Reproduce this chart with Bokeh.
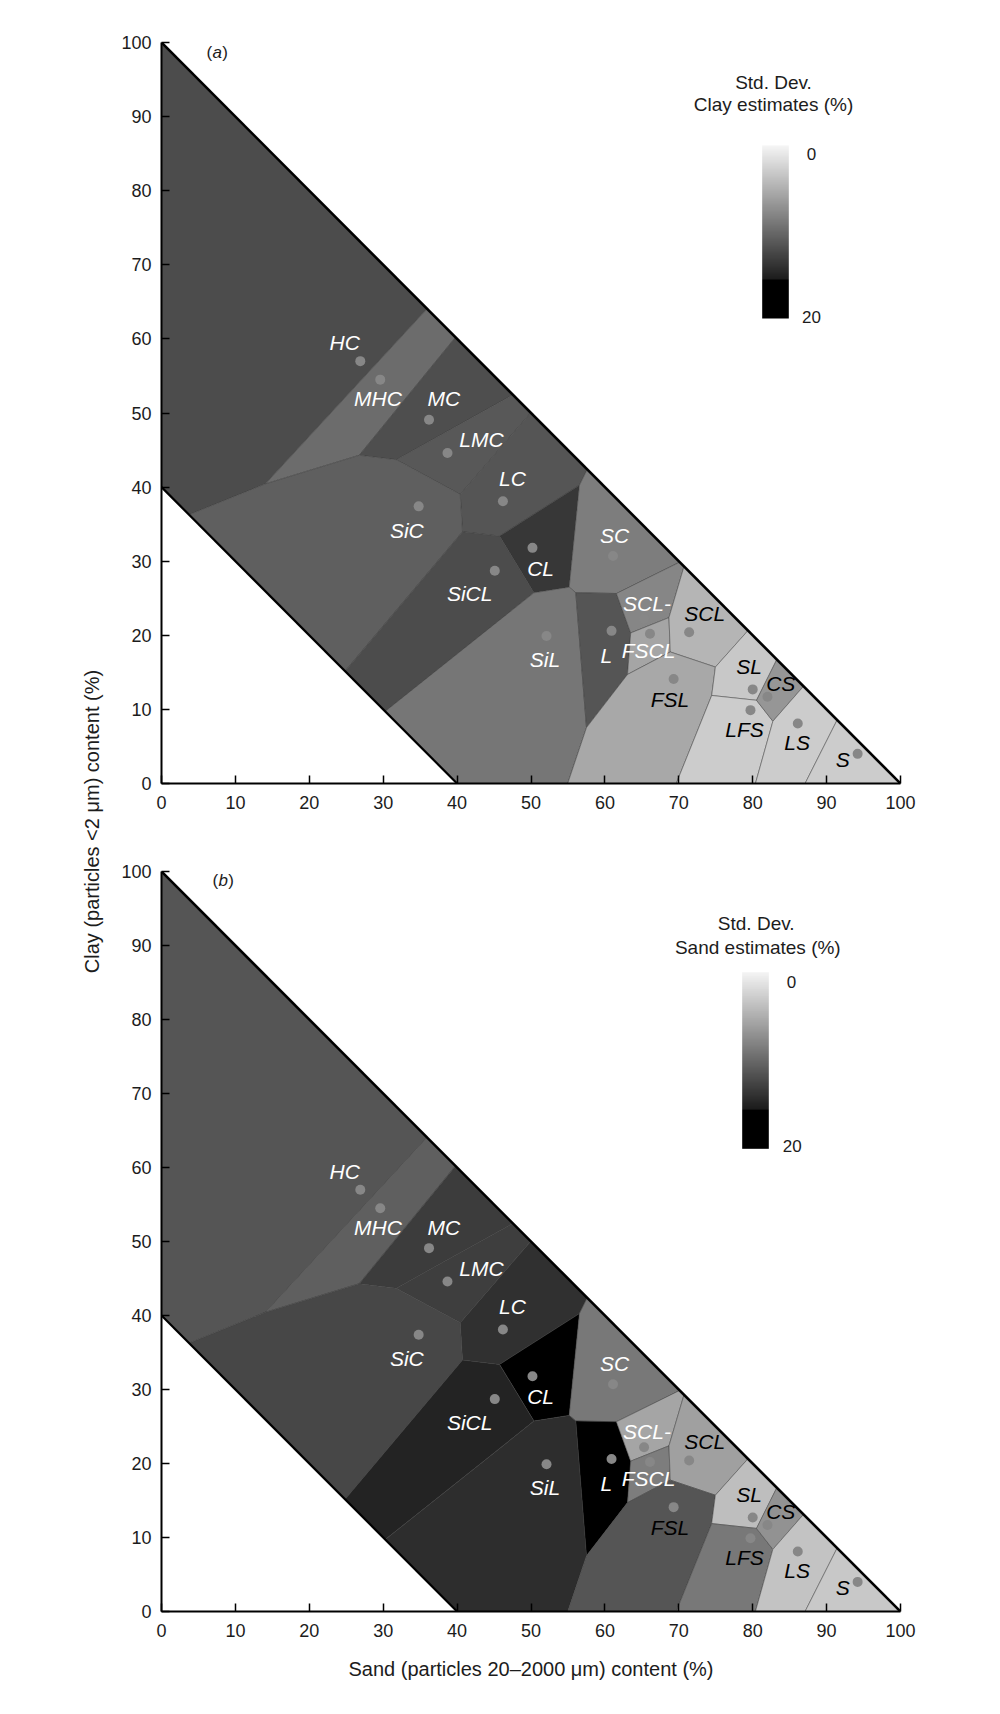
import numpy as np
from bokeh.plotting import figure
from bokeh.layouts import row, column
from bokeh.models import Range1d, FixedTicker
from bokeh.core.properties import value
from bokeh.embed import file_html
from bokeh.resources import INLINE

# ---------------- data ----------------
classes = ["HC", "MHC", "MC", "LMC", "LC", "SiC", "CL", "SiCL", "SC", "SiL",
           "L", "SCL-", "FSCL", "SCL", "FSL", "SL", "LFS", "CS", "LS", "S"]
# class centroids (sand %, clay %)
sand = [26.9, 29.6, 36.2, 38.7, 46.2, 34.8, 50.2, 45.1, 61.1, 52.1,
        60.9, 65.3, 66.1, 71.4, 69.3, 80.0, 79.7, 82.0, 86.1, 94.2]
clay = [57.0, 54.5, 49.1, 44.6, 38.1, 37.4, 31.8, 28.7, 30.7, 19.9,
        20.6, 22.2, 20.2, 20.4, 14.1, 12.7, 9.9, 11.7, 8.1, 4.0]
# standard deviation of estimates per class (%)
sd_clay = [12.1, 9.8, 11.9, 11.2, 11.4, 10.7, 13.6, 12.1, 8.6, 9.1,
           11.4, 7.9, 5.7, 4.6, 5.5, 3.2, 2.9, 6.8, 2.9, 2.9]
sd_sand = [11.4, 10.7, 13.2, 13.1, 14.1, 12.4, 17.0, 15.0, 8.9, 14.3,
           17.5, 5.7, 8.6, 6.1, 11.4, 3.9, 8.9, 7.1, 3.6, 3.2]
# label anchor positions (sand %, clay %)
label_sand = [24.8, 29.3, 38.2, 43.3, 47.5, 33.2, 51.3, 41.7, 61.3, 51.9,
              60.2, 65.7, 65.9, 73.5, 68.8, 79.5, 78.9, 83.8, 86.0, 92.2]
label_clay = [59.5, 51.9, 51.9, 46.4, 41.2, 34.2, 29.0, 25.6, 33.5, 16.8,
              17.3, 24.3, 18.0, 23.0, 11.3, 15.8, 7.3, 13.5, 5.6, 3.2]
dark_text = {"SCL", "FSL", "SL", "CS", "LFS", "LS", "S"}

x_ticks = list(range(0, 101, 10))
y_ticks = list(range(0, 101, 10))
cbar_ticks = [0, 20]

# texture domain: sand + clay <= 100, sand + clay >= 40
domain_sand = [0, 0, 100, 40]
domain_clay = [40, 100, 0, 0]

FONT = "Liberation Sans"
TXT = "#1c1c1c"
FW = 739
LEFT = 161      # page x of the frame's left edge
LABW = 112      # width of the y-title column


def gray_of(v):
    g = 0.0 if v >= 15.6 else 245.0 * (1.0 - v / 17.5)
    return int(round(max(0.0, min(255.0, g))))


def hexgray(g):
    return "#%02x%02x%02x" % (g, g, g)


def clip(poly, a, b, c):
    out = []
    n = len(poly)
    for i in range(n):
        p, q = poly[i], poly[(i + 1) % n]
        fp = a * p[0] + b * p[1] - c
        fq = a * q[0] + b * q[1] - c
        if fp <= 0:
            out.append(p)
        if fp * fq < 0:
            t = fp / (fp - fq)
            out.append((p[0] + t * (q[0] - p[0]), p[1] + t * (q[1] - p[1])))
    return out


def voronoi_cells(px, py):
    dom = list(zip(domain_sand, domain_clay))
    cells = []
    for i in range(len(px)):
        poly = list(dom)
        for j in range(len(px)):
            if i == j:
                continue
            a = 2 * (px[j] - px[i])
            b = 2 * (py[j] - py[i])
            c = px[j] ** 2 + py[j] ** 2 - px[i] ** 2 - py[i] ** 2
            poly = clip(poly, a, b, c)
            if not poly:
                break
        cells.append(poly)
    return cells


cells = voronoi_cells(sand, clay)


def make_panel(sd, letter, title, frame_top, frame_h, border_bottom, cb, with_xlabel):
    def px(X, Y):
        return (X - LEFT) / FW * 100.0, (frame_top + frame_h - Y) / frame_h * 100.0

    p = figure(frame_width=FW, frame_height=frame_h,
               x_range=Range1d(0, 100), y_range=Range1d(0, 100),
               output_backend="svg", toolbar_location=None,
               min_border_left=LEFT - LABW, min_border_right=100,
               min_border_top=42, min_border_bottom=border_bottom)
    p.outline_line_color = None
    p.xgrid.visible = False
    p.ygrid.visible = False
    p.background_fill_color = "white"
    p.border_fill_color = "white"

    xs = [[pt[0] for pt in c] for c in cells]
    ys = [[pt[1] for pt in c] for c in cells]
    fills = [hexgray(gray_of(v)) for v in sd]
    p.patches(xs, ys, fill_color=fills, line_color="#3a3a3a", line_width=0.8, line_alpha=0.6)

    # domain boundaries
    p.line(x=[domain_sand[1], domain_sand[2]], y=[domain_clay[1], domain_clay[2]],
           line_color="black", line_width=2.6)
    p.line(x=[domain_sand[0], domain_sand[3]], y=[domain_clay[0], domain_clay[3]],
           line_color="black", line_width=2.2)

    # centroid dots
    p.scatter(x=sand, y=clay, size=10, fill_color="#878787", line_color=None)

    # class labels
    tcol = ["black" if c in dark_text else "white" for c in classes]
    p.text(x=label_sand, y=label_clay, text=classes, text_color=tcol,
           text_font=value(FONT), text_font_style="italic", text_font_size="21px",
           text_align="center", text_baseline="middle")

    # panel letter
    lx, ly = px(*cb["letter"])
    p.text(x=[lx], y=[ly], text=[letter], text_font=value(FONT), text_font_style="italic",
           text_font_size="17px", text_align="center", text_baseline="middle", text_color=TXT)
    p.text(x=[lx], y=[ly], text=["("], x_offset=-5, text_font=value(FONT),
           text_font_size="17px", text_align="right", text_baseline="middle", text_color=TXT)
    p.text(x=[lx], y=[ly], text=[")"], x_offset=5, text_font=value(FONT),
           text_font_size="17px", text_align="left", text_baseline="middle", text_color=TXT)

    # colour bar
    N = 256
    vals = np.linspace(cbar_ticks[1], cbar_ticks[0], N)
    img = np.zeros((N, 1), dtype=np.uint32)
    view = img.view(dtype=np.uint8).reshape((N, 1, 4))
    for i, v in enumerate(vals):
        g = gray_of(v)
        view[i, 0, :] = [g, g, g, 255]
    (x0, ytop) = px(cb["bar"][0], cb["bar"][1])
    (x1, ybot) = px(cb["bar"][2], cb["bar"][3])
    p.image_rgba(image=[img], x=x0, y=ybot, dw=x1 - x0, dh=ytop - ybot)
    t0 = px(*cb["t0"])
    t1 = px(*cb["t1"])
    p.text(x=[t0[0], t1[0]], y=[t0[1], t1[1]], text=[str(t) for t in cbar_ticks],
           text_font=value(FONT), text_font_size="17px", text_align="center",
           text_baseline="middle", text_color=TXT)
    h1 = px(*cb["title1"])
    h2 = px(*cb["title2"])
    p.text(x=[h1[0], h2[0]], y=[h1[1], h2[1]], text=["Std. Dev.", title],
           text_font=value(FONT), text_font_size="19px", text_align="center",
           text_baseline="middle", text_color=TXT)

    # axes
    p.xaxis.ticker = FixedTicker(ticks=x_ticks)
    p.yaxis.ticker = FixedTicker(ticks=y_ticks)
    for ax in (p.xaxis, p.yaxis):
        ax.axis_line_color = "black"
        ax.axis_line_width = 2
        ax.major_tick_in = 8
        ax.major_tick_out = 0
        ax.minor_tick_in = 0
        ax.minor_tick_out = 0
        ax.major_tick_line_width = 1.5
        ax.major_tick_line_color = "black"
        ax.major_label_text_font = FONT
        ax.major_label_text_font_size = "18px"
        ax.major_label_text_color = TXT
    p.xaxis.major_label_standoff = 12
    p.yaxis.major_label_standoff = 10
    if with_xlabel:
        p.xaxis.axis_label = "Sand (particles 20\u20132000 \u03bcm) content (%)"
        p.xaxis.axis_label_text_font = FONT
        p.xaxis.axis_label_text_font_style = "normal"
        p.xaxis.axis_label_text_font_size = "20px"
        p.xaxis.axis_label_text_color = TXT
        p.xaxis.axis_label_standoff = 18
    return p


cb_a = {"letter": (216.7, 52.3), "bar": (761.7, 145, 788.3, 318),
        "t0": (811, 153.3), "t1": (811, 316.7),
        "title1": (773, 81.7), "title2": (773, 104.3)}
cb_b = {"letter": (222.7, 880), "bar": (741.7, 971.7, 768.3, 1148.3),
        "t0": (791, 981.7), "t1": (791.7, 1145),
        "title1": (755.7, 923.3), "title2": (757.3, 946.7)}

pa = make_panel(sd_clay, "a", "Clay estimates (%)", 42, 741, 46, cb_a, False)
pb = make_panel(sd_sand, "b", "Sand estimates (%)", 871, 740, 103, cb_b, True)

# shared y-axis title column
pl = figure(frame_width=LABW, frame_height=1714, x_range=Range1d(0, LABW), y_range=Range1d(0, 1714),
            x_axis_location=None, y_axis_location=None, output_backend="svg",
            toolbar_location=None, min_border=0)
pl.outline_line_color = None
pl.grid.visible = False
pl.xgrid.visible = False
pl.ygrid.visible = False
pl.background_fill_color = "white"
pl.border_fill_color = "white"
pl.text(x=[91], y=[1714 - 821], text=["Clay (particles <2 \u03bcm) content (%)"],
        angle=np.pi / 2, text_font=value(FONT), text_font_size="20px",
        text_align="center", text_baseline="middle", text_color=TXT)

layout = row(pl, column(pa, pb))
open("out.html", "w").write(file_html(layout, INLINE))
